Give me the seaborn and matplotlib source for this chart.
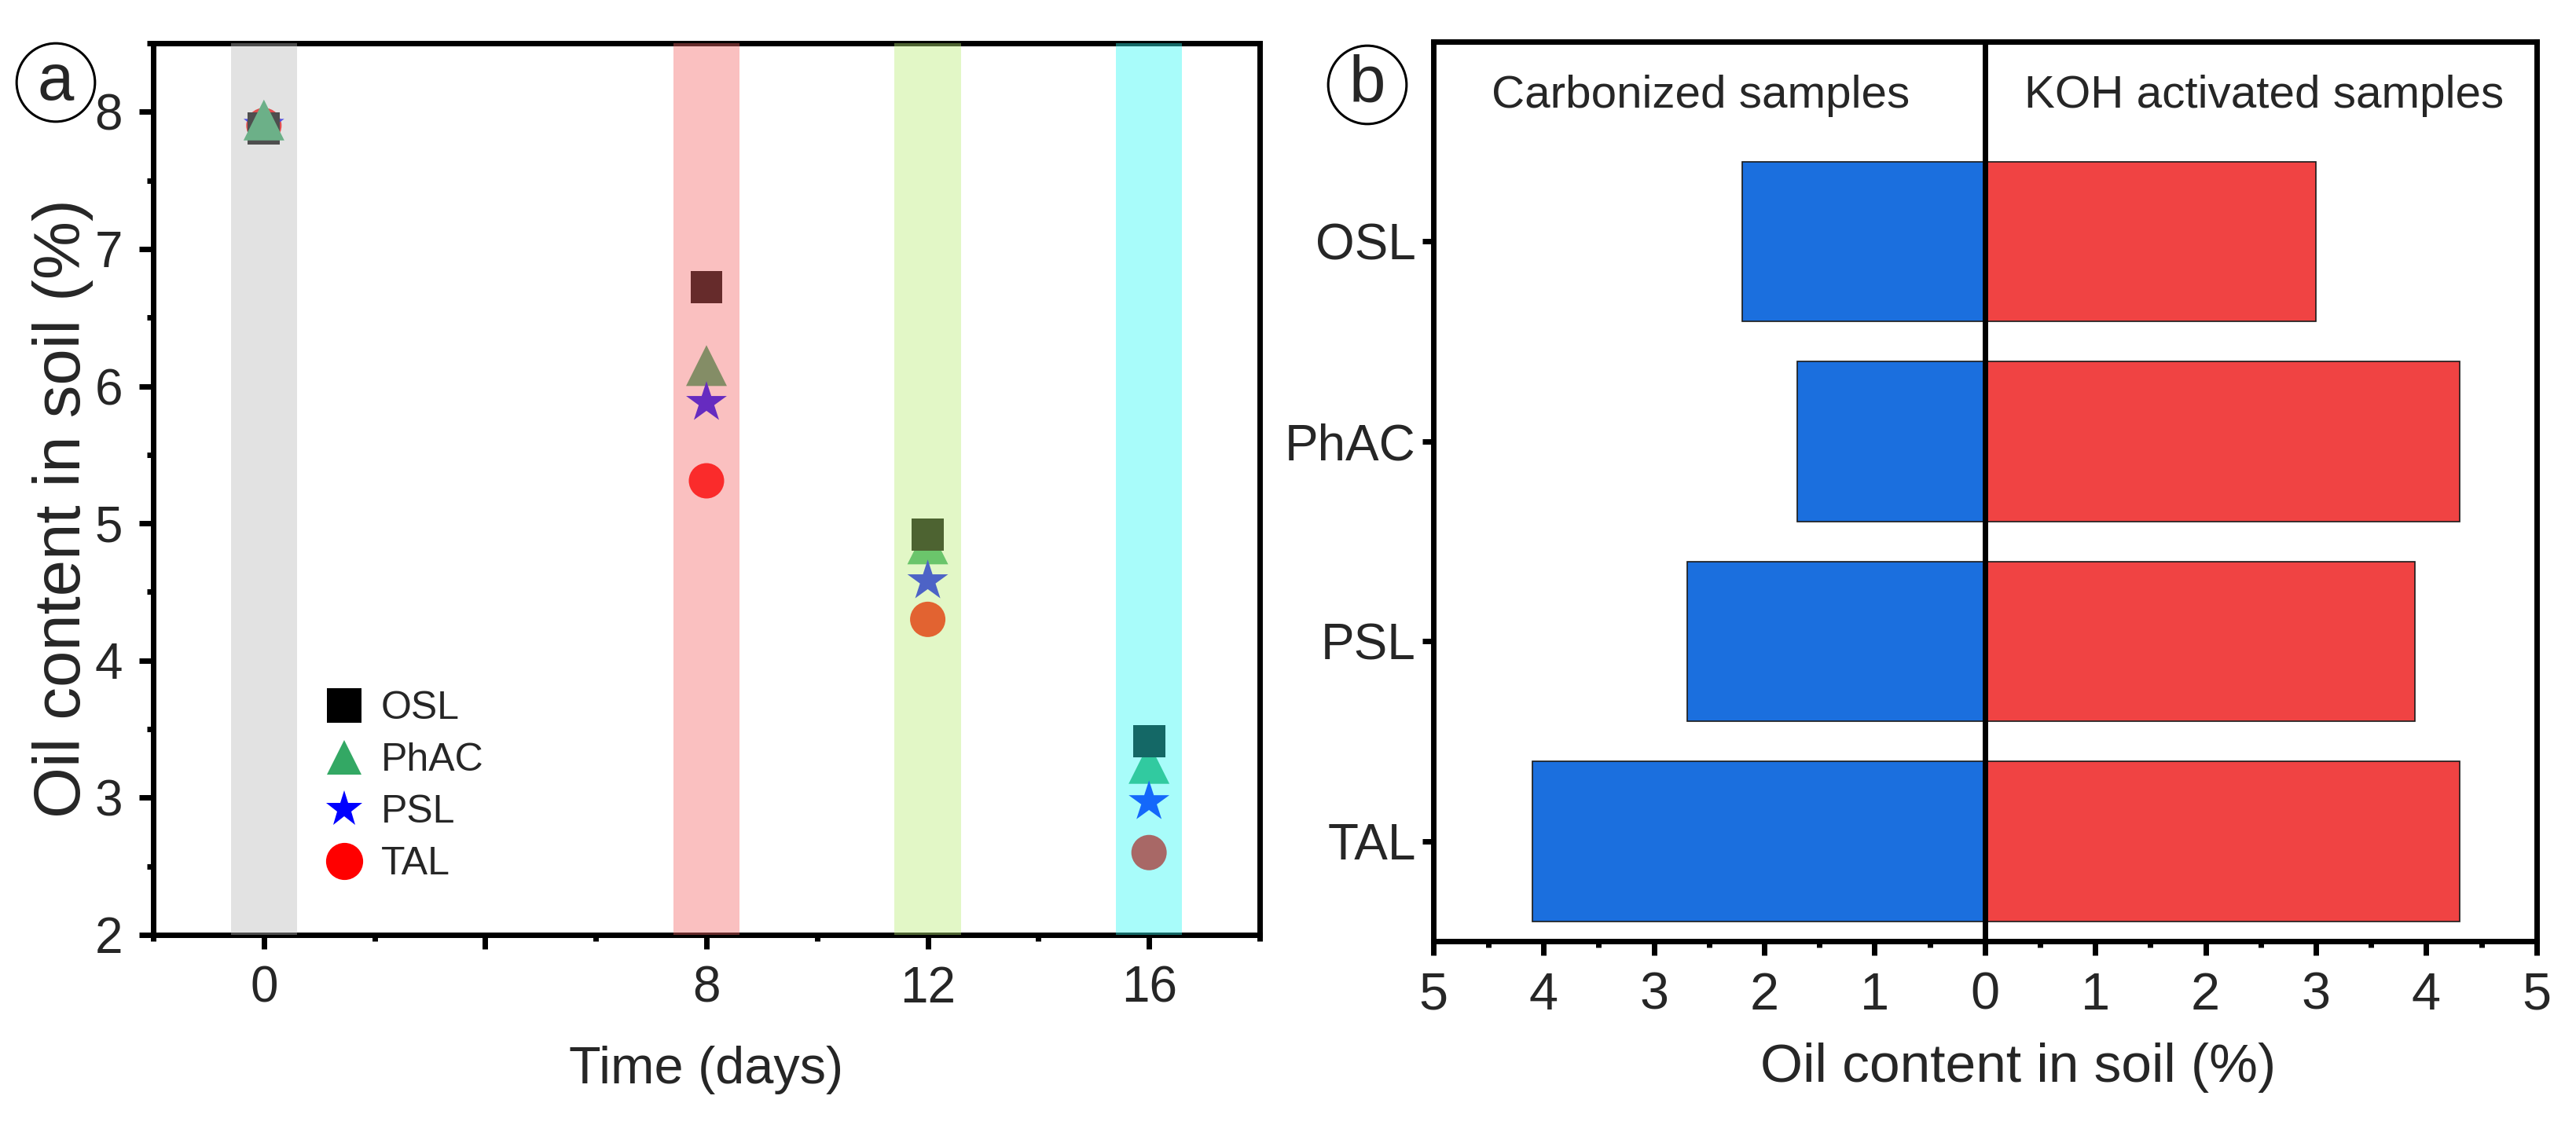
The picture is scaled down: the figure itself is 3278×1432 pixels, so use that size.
import matplotlib
matplotlib.use("Agg")

import matplotlib.pyplot as plt
from matplotlib.lines import Line2D
from matplotlib.ticker import FixedLocator, MultipleLocator, FuncFormatter
import pandas as pd
import seaborn as sns

# panel (a): oil content over time
DAYS = [0, 8, 12, 16]
SERIES = ["OSL", "PhAC", "PSL", "TAL"]
OSL = [7.88, 6.72, 4.92, 3.41]
PHAC = [7.94, 6.15, 4.85, 3.25]
PSL = [7.90, 5.88, 4.58, 2.97]
TAL = [7.90, 5.31, 4.30, 2.60]

# panel (b): carbonized vs KOH activated
SAMPLES = ["OSL", "PhAC", "PSL", "TAL"]
CARBONIZED = [2.2, 1.7, 2.7, 4.1]
KOH_ACTIVATED = [3.0, 4.3, 3.9, 4.3]

MARKERS = {"OSL": "s", "PhAC": "^", "PSL": "*", "TAL": "o"}
COLORS = {"OSL": "#000000", "PhAC": "#33A864", "PSL": "#0000FF", "TAL": "#FF0000"}
SIZES = {"OSL": 870, "PhAC": 1400, "PSL": 1540, "TAL": 1050}
LEGEND_MS = {"OSL": 31, "PhAC": 32, "PSL": 35, "TAL": 34}
BAND_COLORS = ["#BCBCBC", "#F56969", "#BAEE77", "#30FAF5"]
BLUE = "#1B6FDE"
RED = "#F04343"

LW = 5
TICK_FS = 46
LABEL_FS = 48


def style_axis(ax):
    for sp in ax.spines.values():
        sp.set_linewidth(LW)
        sp.set_color("black")
    ax.tick_params(which="major", direction="out", length=13, width=LW,
                   labelsize=TICK_FS, color="black", pad=15)
    ax.tick_params(which="minor", direction="out", length=6, width=LW, color="black")
    ax.grid(False)


def plot_timeline(ax):
    values = {"OSL": OSL, "PhAC": PHAC, "PSL": PSL, "TAL": TAL}
    rows = []
    for i, day in enumerate(DAYS):
        # at day 0 the triangle sits on top, later the square/star cover it
        order = ["TAL", "PSL", "OSL", "PhAC"] if day == 0 else ["PhAC", "OSL", "PSL", "TAL"]
        for name in order:
            rows.append({"day": day, "oil": values[name][i], "series": name})
    df = pd.DataFrame(rows)

    sns.scatterplot(data=df, x="day", y="oil", hue="series", style="series", size="series",
                    hue_order=SERIES, style_order=SERIES, size_order=SERIES,
                    palette=COLORS, markers=MARKERS, sizes=SIZES,
                    linewidth=0, ax=ax, zorder=2, legend=False)

    for day, col in zip(DAYS, BAND_COLORS):
        ax.axvspan(day - 0.6, day + 0.6, color=col, alpha=0.42, lw=0, zorder=3)

    handles = [Line2D([], [], linestyle="", marker=MARKERS[s], color=COLORS[s],
                      markersize=LEGEND_MS[s], markeredgewidth=0) for s in SERIES]
    ax.legend(handles, SERIES, loc="upper left", bbox_to_anchor=(0.156, 0.274),
              frameon=False, fontsize=36, borderpad=0, borderaxespad=0,
              handlelength=0.95, handletextpad=0.45, labelspacing=0.4)

    ax.set_xlim(-2, 18)
    ax.set_ylim(2, 8.5)
    ax.xaxis.set_major_locator(FixedLocator([0, 4, 8, 12, 16]))
    ax.set_xticklabels(["0", "", "8", "12", "16"])
    ax.xaxis.set_minor_locator(FixedLocator([-2, 2, 6, 10, 14, 18]))
    ax.yaxis.set_major_locator(MultipleLocator(1))
    ax.yaxis.set_minor_locator(MultipleLocator(0.5))
    style_axis(ax)
    ax.set_xlabel("Time (days)", fontsize=LABEL_FS, labelpad=30)
    ax.set_ylabel("Oil content in soil (%)", fontsize=60)
    ax.yaxis.set_label_coords(-0.054, 0.478)


def plot_comparison(ax):
    neg = [-v for v in CARBONIZED]
    sns.barplot(x=neg, y=SAMPLES, orient="h", color=BLUE, saturation=1, width=0.8,
                edgecolor="#1a1a1a", linewidth=1.2, ax=ax)
    sns.barplot(x=KOH_ACTIVATED, y=SAMPLES, orient="h", color=RED, saturation=1, width=0.8,
                edgecolor="#1a1a1a", linewidth=1.2, ax=ax)
    ax.axvline(0, color="black", lw=LW, zorder=4)

    ax.set_xlim(-5, 5)
    ax.set_ylim(3.5, -1.0)
    ax.xaxis.set_major_locator(MultipleLocator(1))
    ax.xaxis.set_minor_locator(MultipleLocator(0.5))
    ax.xaxis.set_major_formatter(FuncFormatter(lambda v, p: f"{abs(v):.0f}"))
    style_axis(ax)
    ax.tick_params(axis="x", which="major", labelsize=48)
    ax.tick_params(axis="y", which="major", length=10, labelsize=TICK_FS, pad=6)

    ax.text(-2.58, -0.67, "Carbonized samples", ha="center", va="baseline", fontsize=42)
    ax.text(2.53, -0.67, "KOH activated samples", ha="center", va="baseline", fontsize=42)

    ax.set_xlabel("Oil content in soil (%)", fontsize=50, labelpad=20, x=0.53)
    ax.set_ylabel("")


def main():
    sns.set_theme(style="ticks")
    plt.rcParams["font.family"] = ["Liberation Sans", "DejaVu Sans"]

    fig = plt.figure(figsize=(32.78, 14.32), dpi=100)
    ax_a = fig.add_axes([0.0595, 0.169, 0.4295, 0.7926])
    ax_b = fig.add_axes([0.5564, 0.1634, 0.4283, 0.7996])

    plot_timeline(ax_a)
    plot_comparison(ax_b)

    circ = dict(boxstyle="circle,pad=0.13", fc="none", ec="black", lw=2.2)
    fig.text(71 / 3278, 1 - 105 / 1432, "a", ha="center", va="center", fontsize=60, bbox=circ)
    fig.text(1740 / 3278, 1 - 108 / 1432, "b", ha="center", va="center", fontsize=60, bbox=circ)

    fig.savefig("out.png", dpi=100)
    plt.close("all")


if __name__ == "__main__":
    main()
